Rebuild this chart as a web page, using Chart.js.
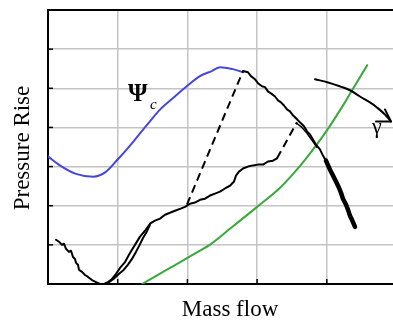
<!DOCTYPE html>
<html>
<head>
<meta charset="utf-8">
<script src="https://cdn.jsdelivr.net/npm/chart.js@4/dist/chart.umd.min.js"></script>
<style>
  html, body { margin: 0; padding: 0; background: #fff; overflow: hidden; }
</style>
</head>
<body>
<canvas id="chart" width="393" height="320"></canvas>
<script>
// Compressor map sketch: characteristic, surge cycle and throttle line

// Psi_c characteristic (blue)
const psiX = [0, 0.17, 0.39, 0.65, 0.82, 1.00, 1.18, 1.32, 1.46, 1.61, 1.82, 1.99, 2.18, 2.35, 2.47, 2.65, 2.80];
const psiY = [3.26, 3.03, 2.82, 2.74, 2.85, 3.18, 3.54, 3.85, 4.15, 4.46, 4.79, 5.05, 5.31, 5.44, 5.54, 5.49, 5.41];

// throttle line (green)
const throttleX = [1.35, 1.75, 2.18, 2.32, 2.61, 3.00, 3.33, 3.52, 3.69, 4.00, 4.26, 4.38, 4.58];
const throttleY = [0, 0.41, 0.85, 1.00, 1.41, 1.97, 2.46, 2.82, 3.18, 3.92, 4.64, 5.00, 5.59];

// measured cycle, low branch (black)
const lowX = [0.115, 0.158, 0.201, 0.230, 0.258, 0.301, 0.330, 0.359, 0.387, 0.402, 0.430, 0.445, 0.488, 0.531, 0.574,
  0.631, 0.689, 0.746, 0.803, 0.861, 0.918, 0.976, 1.033, 1.105, 1.176, 1.248, 1.320, 1.392, 1.463, 1.535, 1.607,
  1.679, 1.750, 1.822, 1.894, 1.966, 2.037, 2.109, 2.181, 2.253, 2.324, 2.396, 2.468, 2.539, 2.611, 2.669, 2.697,
  2.740, 2.798, 2.869, 2.941, 3.013, 3.085, 3.156, 3.228, 3.286];
const lowY = [1.13, 1.08, 1.00, 1.03, 0.90, 0.82, 0.85, 0.69, 0.64, 0.54, 0.49, 0.36, 0.31, 0.23, 0.18,
  0.10, 0.05, 0, 0, 0.05, 0.13, 0.26, 0.41, 0.56, 0.79, 1.00, 1.21, 1.36, 1.54, 1.62, 1.67,
  1.77, 1.82, 1.87, 1.92, 1.97, 2.05, 2.08, 2.15, 2.18, 2.26, 2.31, 2.36, 2.44, 2.51, 2.62, 2.77,
  2.87, 2.95, 3.00, 3.03, 3.05, 3.05, 3.13, 3.15, 3.21];

// second strand of the loop near the minimum
const loopX = [0.861, 0.940, 1.020, 1.085, 1.145, 1.205, 1.262, 1.315, 1.365, 1.415, 1.463];
const loopY = [0.03, 0.13, 0.26, 0.36, 0.49, 0.64, 0.82, 1.00, 1.18, 1.33, 1.51];

// falling branch after the peak
const fallX = [2.798, 2.869, 2.912, 2.970, 3.013, 3.070, 3.113, 3.156, 3.214, 3.257, 3.300, 3.343, 3.386, 3.429,
  3.472, 3.515, 3.572, 3.615, 3.673, 3.716, 3.759, 3.802, 3.845, 3.902, 3.945, 3.988, 4.046, 4.089, 4.132, 4.175,
  4.204, 4.232, 4.275, 4.304, 4.333, 4.362, 4.405];
const fallY = [5.44, 5.41, 5.31, 5.23, 5.13, 5.05, 5.03, 4.92, 4.85, 4.79, 4.69, 4.64, 4.56, 4.46,
  4.41, 4.31, 4.21, 4.13, 4.03, 3.90, 3.82, 3.69, 3.56, 3.44, 3.28, 3.15, 2.92, 2.77, 2.62, 2.46,
  2.33, 2.18, 2.03, 1.90, 1.74, 1.64, 1.46];

const sideX = [3.572, 3.644, 3.716, 3.788, 3.859];
const sideY = [4.10, 4.00, 3.85, 3.67, 3.49];

// dashed jumps
const jump1X = [1.994, 2.798];
const jump1Y = [2.03, 5.44];
const jump2X = [3.286, 3.572];
const jump2Y = [3.21, 4.13];

// gamma arrow
const arrowX = [3.831, 4.017, 4.189, 4.333, 4.476, 4.620, 4.720, 4.835, 4.921];
const arrowY = [5.23, 5.15, 5.05, 4.95, 4.79, 4.64, 4.51, 4.33, 4.15];
const headX = [4.835, 4.921, 4.706];
const headY = [4.46, 4.15, 4.15];

const pts = (xs, ys) => xs.map((x, i) => ({ x, y: ys[i] }));

function line(data, color, width, extra) {
  return Object.assign({
    data, borderColor: color, borderWidth: width, pointRadius: 0,
    fill: false, tension: 0, borderCapStyle: 'round', borderJoinStyle: 'round'
  }, extra || {});
}

const decor = {
  id: 'decor',
  afterDraw(chart) {
    const { ctx, chartArea: a, scales: { x, y } } = chart;
    ctx.save();
    ctx.strokeStyle = '#000';
    ctx.lineWidth = 2;
    ctx.beginPath();
    ctx.moveTo(a.left - 1, a.top);
    ctx.lineTo(chart.width, a.top);
    ctx.stroke();

    // short inward ticks
    ctx.lineWidth = 1.5;
    y.ticks.forEach(t => {
      if (!Number.isInteger(t.value) || t.value === 0) return;
      const py = y.getPixelForValue(t.value);
      ctx.beginPath(); ctx.moveTo(a.left, py); ctx.lineTo(a.left + 5, py); ctx.stroke();
    });
    x.ticks.forEach(t => {
      if (!Number.isInteger(t.value) || t.value === 0) return;
      const px = x.getPixelForValue(t.value);
      ctx.beginPath(); ctx.moveTo(px, a.bottom); ctx.lineTo(px, a.bottom - 5); ctx.stroke();
    });

    ctx.fillStyle = '#000';
    ctx.textAlign = 'left';
    ctx.textBaseline = 'alphabetic';
    ctx.font = 'bold 25px "Liberation Serif", serif';
    ctx.fillText('Ψ', x.getPixelForValue(1.148), y.getPixelForValue(4.67));
    ctx.font = 'italic 15px "Liberation Serif", serif';
    ctx.fillText('c', x.getPixelForValue(1.463), y.getPixelForValue(4.46));
    ctx.font = '22px "Liberation Serif", serif';
    ctx.fillText('γ', x.getPixelForValue(4.649), y.getPixelForValue(3.87));

    // axis titles
    ctx.font = '23px "Liberation Serif", serif';
    ctx.textAlign = 'center';
    ctx.fillText('Mass flow', 230, 316);
    ctx.translate(29, (a.top + a.bottom) / 2 + 1);
    ctx.rotate(-Math.PI / 2);
    ctx.fillText('Pressure Rise', 0, 0);
    ctx.restore();
  }
};

const gridColor = c => (Number.isInteger(c.tick.value) ? '#c4c4c4' : 'rgba(0,0,0,0)');

new Chart(document.getElementById('chart'), {
  type: 'line',
  data: {
    datasets: [
      line(pts(fallX.slice(25), fallY.slice(25)), '#000', 4.5, { order: 0 }),
      line(pts(fallX, fallY), '#000', 2, { order: 1 }),
      line(pts(sideX, sideY), '#000', 1.5, { order: 1 }),
      line(pts(lowX, lowY), '#000', 2, { order: 1 }),
      line(pts(loopX, loopY), '#000', 2, { order: 1 }),
      line(pts(jump1X, jump1Y), '#000', 2, { order: 1, borderDash: [8, 5], borderCapStyle: 'butt' }),
      line(pts(jump2X, jump2Y), '#000', 2, { order: 1, borderDash: [8, 5], borderCapStyle: 'butt' }),
      line(pts(arrowX, arrowY), '#000', 2, { order: 1, tension: 0.4 }),
      line(pts(headX, headY), '#000', 2, { order: 1 }),
      line(pts(throttleX, throttleY), '#3aa83a', 2, { order: 2, tension: 0.4, cubicInterpolationMode: 'monotone' }),
      line(pts(psiX, psiY), '#4646dc', 2, { order: 2, tension: 0.4, cubicInterpolationMode: 'monotone' })
    ]
  },
  options: {
    responsive: false,
    animation: false,
    devicePixelRatio: 1,
    layout: { padding: { left: 48, top: 10, right: 0, bottom: 36 } },
    plugins: { legend: { display: false }, tooltip: { enabled: false } },
    scales: {
      x: {
        type: 'linear', min: 0, max: 4.95,
        ticks: { display: false, stepSize: 1 },
        grid: { color: gridColor, lineWidth: 1.5, drawTicks: false },
        border: { color: '#000', width: 2 }
      },
      y: {
        type: 'linear', min: 0, max: 7,
        ticks: { display: false, stepSize: 1 },
        grid: { color: gridColor, lineWidth: 1.5, drawTicks: false },
        border: { color: '#000', width: 2 }
      }
    }
  },
  plugins: [decor]
});
</script>
</body>
</html>
